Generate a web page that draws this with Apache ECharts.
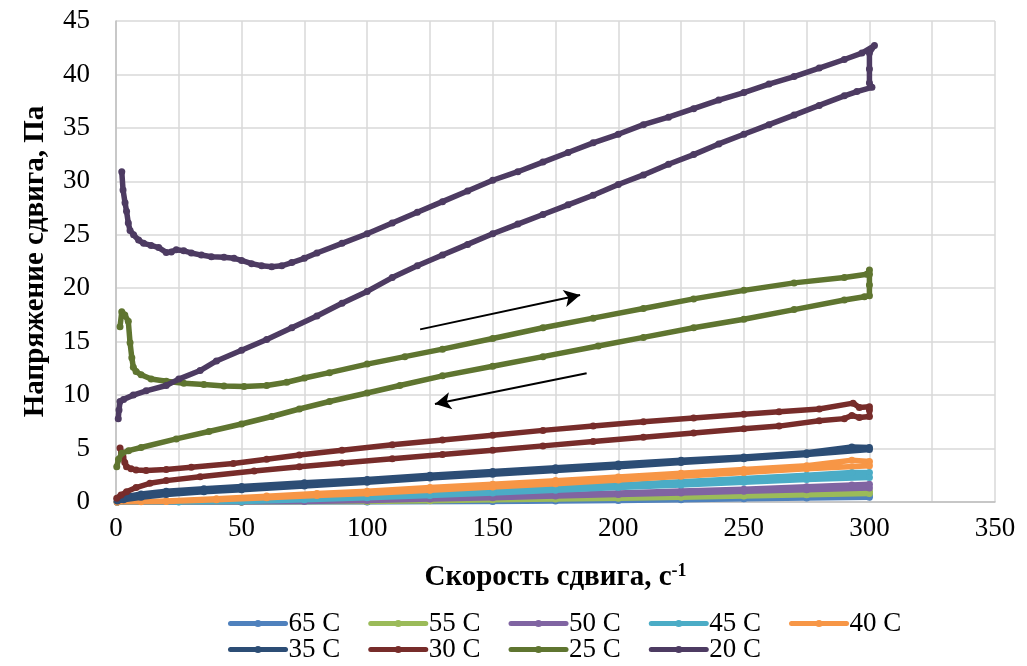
<!DOCTYPE html>
<html><head><meta charset="utf-8">
<script src="https://cdn.jsdelivr.net/npm/echarts@6/dist/echarts.min.js"></script>
<style>html,body{margin:0;padding:0;background:#fff}#c{width:1027px;height:666px}</style>
</head><body><div id="c"></div>
<script>
// ---- data ----
const seriesNames = ['65 C','55 C','50 C','45 C','40 C','35 C','30 C','25 C','20 C'];
const xTicks = [0,50,100,150,200,250,300,350];
const yTicks = [0,5,10,15,20,25,30,35,40,45];

const t65Up = [[0.5,0],[50,0],[100,0.02],[150,0.1],[175,0.17],[200,0.25],[225,0.35],[250,0.45],[275,0.55],[300,0.65]];
const t65Down = [[300,0.45],[275,0.38],[250,0.3],[225,0.22],[200,0.15],[175,0.1],[150,0.05],[100,0],[50,0],[0.5,0]];

const t55Up = [[0.5,0],[50,0.01],[100,0.1],[125,0.17],[150,0.25],[175,0.35],[200,0.45],[225,0.57],[250,0.7],[275,0.85],[300,1.0]];
const t55Down = [[300,0.8],[275,0.67],[250,0.55],[225,0.45],[200,0.35],[175,0.27],[150,0.2],[125,0.12],[100,0.05],[50,0],[0.5,0]];

const t50Up = [[0.5,0],[50,0.05],[100,0.25],[125,0.37],[150,0.5],[175,0.67],[200,0.85],[225,1.02],[250,1.2],[275,1.42],[293,1.6],[300,1.65]];
const t50Down = [[300,1.3],[275,1.15],[250,1.0],[225,0.85],[200,0.7],[175,0.55],[150,0.4],[125,0.27],[100,0.15],[75,0.05],[50,0],[0.5,0]];

const t45Up = [[0.5,0],[25,0.02],[50,0.1],[75,0.3],[100,0.55],[125,0.8],[150,1.05],[175,1.35],[200,1.6],[225,1.9],[250,2.2],[275,2.5],[293,2.75],[300,2.75]];
const t45Down = [[300,2.3],[275,2.1],[250,1.85],[225,1.6],[200,1.35],[175,1.1],[150,0.85],[125,0.6],[100,0.4],[75,0.2],[50,0.05],[25,0],[0.5,0]];

const t40Up = [[0.5,0],[10,0.03],[20,0.1],[40,0.3],[60,0.55],[80,0.8],[100,1.0],[125,1.35],[150,1.65],[175,2.0],[200,2.35],[225,2.7],[250,3.05],[275,3.4],[293,3.9],[300,3.8]];
const t40Down = [[300,3.4],[275,3.1],[250,2.75],[225,2.4],[200,2.05],[175,1.7],[150,1.4],[125,1.1],[100,0.8],[80,0.6],[60,0.4],[40,0.2],[20,0.05],[0.5,0]];

const t35Up = [[0.5,0.25],[5,0.55],[10,0.75],[20,1.0],[35,1.25],[50,1.45],[75,1.8],[100,2.1],[125,2.5],[150,2.85],[175,3.2],[200,3.55],[225,3.9],[250,4.2],[275,4.6],[293,5.15],[300,5.1]];
const t35Down = [[300,4.9],[275,4.45],[250,4.05],[225,3.7],[200,3.3],[175,2.95],[150,2.6],[125,2.25],[100,1.85],[75,1.5],[50,1.15],[35,0.95],[20,0.7],[10,0.45],[3,0.2],[0.5,0.1]];

const t30Up = [[1.6,5.05],[2.2,4.6],[2.8,4.2],[3.5,3.7],[4.2,3.3],[6,3.1],[8,3.0],[12,2.95],[20,3.05],[30,3.25],[46.7,3.6],[60,4.0],[73,4.4],[90,4.85],[110,5.35],[130,5.8],[150,6.25],[170,6.7],[190,7.1],[210,7.5],[230,7.85],[250,8.2],[264,8.45],[280,8.7],[293.5,9.25],[296,8.85],[300,8.9]];
const t30Down = [[300,8.6],[300,8.0],[296,7.9],[293,8.1],[290,7.8],[280,7.6],[264,7.1],[250,6.85],[230,6.45],[210,6.05],[190,5.65],[170,5.25],[150,4.85],[130,4.45],[110,4.05],[90,3.65],[73,3.3],[55,2.9],[33.5,2.37],[20,2.0],[13.5,1.75],[8,1.35],[4.2,0.96],[2,0.65],[0.3,0.35]];

const t25Up = [[1.6,16.4],[2.3,17.8],[3.5,17.5],[4.9,16.9],[5.6,14.9],[6.3,13.5],[6.9,12.6],[8,12.2],[10,11.9],[14,11.5],[20,11.3],[27,11.1],[35,11.0],[43,10.85],[51,10.8],[60,10.9],[68,11.2],[75,11.6],[85,12.1],[100,12.9],[115,13.6],[130,14.3],[150,15.3],[170,16.3],[190,17.2],[210,18.1],[230,19.0],[250,19.8],[270,20.5],[290,21.0],[299,21.3],[300,21.7]];
const t25Down = [[300,21.3],[300,20.3],[300,19.3],[298,19.2],[290,18.9],[270,18.0],[250,17.1],[230,16.3],[210,15.4],[192,14.6],[170,13.6],[150,12.7],[130,11.8],[113,10.9],[100,10.2],[85,9.4],[73,8.7],[62,8.0],[50,7.3],[37,6.6],[24,5.9],[10,5.1],[5,4.8],[2.3,4.55],[1,4.0],[0.3,3.3]];

const t20Up = [[2.3,30.9],[2.8,29.2],[3.6,28.0],[4.2,27.2],[4.9,26.1],[5.6,25.4],[7,25.0],[9,24.5],[11,24.2],[14,24.0],[17,23.8],[20,23.35],[22,23.4],[24,23.6],[27,23.5],[30,23.3],[34,23.1],[38,22.95],[43,22.9],[47,22.8],[50,22.6],[54,22.3],[58,22.1],[62,22.0],[66,22.1],[70,22.4],[75,22.8],[80,23.3],[90,24.2],[100,25.1],[110,26.1],[120,27.1],[130,28.1],[140,29.1],[150,30.1],[160,30.9],[170,31.8],[180,32.7],[190,33.6],[200,34.4],[210,35.3],[220,36.0],[230,36.8],[240,37.6],[250,38.3],[260,39.1],[270,39.8],[280,40.6],[290,41.4],[297,42.0],[302,42.7]];
const t20Down = [[300,42.0],[300,40.5],[300,39.2],[301,38.8],[295,38.4],[290,38.0],[280,37.1],[270,36.2],[260,35.3],[250,34.4],[240,33.5],[230,32.5],[220,31.6],[210,30.6],[200,29.7],[190,28.7],[180,27.8],[170,26.9],[160,26.0],[150,25.1],[140,24.1],[130,23.1],[120,22.1],[110,21.0],[100,19.7],[90,18.6],[80,17.4],[70,16.3],[60,15.2],[50,14.2],[40,13.2],[33.5,12.3],[25,11.5],[20,10.9],[12,10.4],[6.9,10.0],[3,9.6],[1.6,9.4],[1.2,8.6],[0.9,7.8]];

const arrows = [[[121.1,16.15],[184.8,19.36]],[[187.4,12.04],[127,9.17]]];

const colors = ['#4F81BD','#9BBB59','#8064A2','#4BACC6','#F79646','#2C4D75','#772C2A','#5F7530','#4D3B62'];
const loops = [[t65Up,t65Down],[t55Up,t55Down],[t50Up,t50Down],[t45Up,t45Down],[t40Up,t40Down],[t35Up,t35Down],[t30Up,t30Down],[t25Up,t25Down],[t20Up,t20Down]];

const FONT = '"Liberation Serif", "Times New Roman", serif';
const chart = echarts.init(document.getElementById('c'), null, {renderer:'canvas'});

const series = seriesNames.map((n,i)=>{
  const s = {
    name:n, type:'line', data: loops[i][0].concat(loops[i][1]),
    symbol:'circle', symbolSize:7, showSymbol:true,
    lineStyle:{width:5.5, color:colors[i], join:'round', cap:'round'}, itemStyle:{color:colors[i]},
    emphasis:{disabled:true}, animation:false, z:2+i
  };
  if (i === seriesNames.length-1) {
    s.markLine = {
      silent:true, symbol:['none','arrow'], symbolSize:[13,16],
      lineStyle:{color:'#000', width:2, type:'solid'}, label:{show:false},
      emphasis:{disabled:true},
      data: arrows.map(a=>[{coord:a[0]},{coord:a[1]}])
    };
  }
  return s;
});

const legendCommon = {
  left:228, padding:0, itemWidth:55, itemHeight:9, itemGap:28,
  lineStyle:{width:5},
  textStyle:{fontFamily:FONT, fontSize:27, color:'#000', padding:[0,0,0,-2]}
};

chart.setOption({
  backgroundColor:'#fff',
  color: colors,
  animation:false,
  grid:{left:116, right:32, top:21, bottom:164, containLabel:false},
  xAxis:{
    type:'value', min:0, max:350, interval:25,
    name:'Скорость сдвига, с{sup|-1}', nameLocation:'middle', nameGap:60,
    nameTextStyle:{fontFamily:FONT, fontSize:29, fontWeight:'bold', color:'#000',
      rich:{sup:{fontFamily:FONT, fontSize:18, fontWeight:'bold', color:'#000', padding:[0,0,13,0]}}},
    axisLine:{show:true, lineStyle:{color:'#bfbfbf', width:1.5}},
    axisTick:{show:false},
    axisLabel:{fontFamily:FONT, fontSize:27, color:'#000', margin:13,
      formatter:v=> xTicks.includes(v) ? String(v) : ''},
    splitLine:{show:true, lineStyle:{color:'#d9d9d9', width:1.5}}
  },
  yAxis:{
    type:'value', min:0, max:45, interval:5,
    name:'Напряжение сдвига, Па', nameLocation:'middle', nameGap:66,
    nameTextStyle:{fontFamily:FONT, fontSize:29, fontWeight:'bold', color:'#000'},
    axisLine:{show:true, lineStyle:{color:'#bfbfbf', width:1.5}},
    axisTick:{show:false},
    axisLabel:{fontFamily:FONT, fontSize:27, color:'#000', margin:26,
      formatter:v=> yTicks.includes(v) ? String(v) : ''},
    splitLine:{show:true, lineStyle:{color:'#d9d9d9', width:1.5}}
  },
  legend:[
    Object.assign({}, legendCommon, {top:610, data:seriesNames.slice(0,5)}),
    Object.assign({}, legendCommon, {top:636, data:seriesNames.slice(5)})
  ],
  series: series
});
</script></body></html>
